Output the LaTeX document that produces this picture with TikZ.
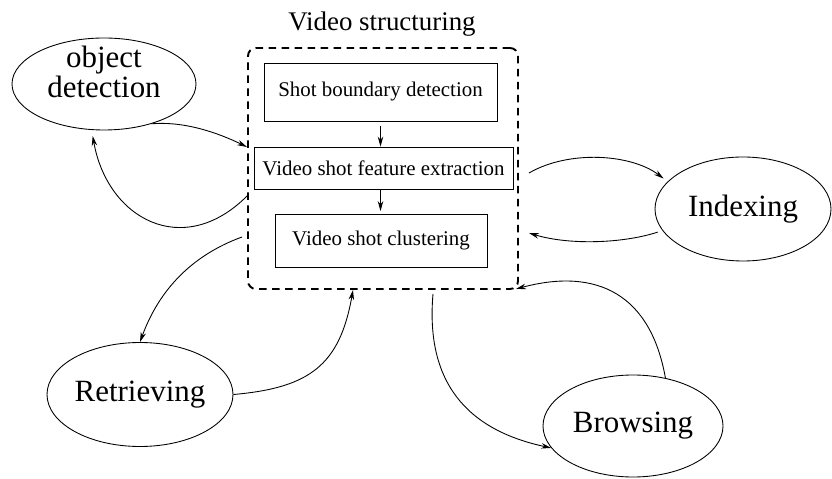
\documentclass[tikz,border=0pt]{standalone}
\usepackage{fontspec}
\setmainfont{Liberation Serif}
\usetikzlibrary{shapes.geometric}
\usetikzlibrary{arrows.meta}
\tikzset{elipse/.style={ellipse,draw,line width=0.5pt,inner sep=0pt},
	etiq/.style={font=\fontsize{17.6}{17}\selectfont,align=center},
	caja/.style={rectangle,draw,line width=0.45pt,inner sep=0pt,font=\fontsize{11.9}{14}\selectfont},
	flecha/.style={-{Stealth[length=2mm,width=1.1mm]},line width=0.5pt}}
\begin{document}
\begin{tikzpicture}
		\useasboundingbox (0,0) rectangle (16.64,9.56); %marco
		\node[draw,dashed,line width=1.1pt,dash pattern=on 0.15cm off 0.11cm,rounded corners=0.16cm,minimum width=5.4cm,minimum height=4.82cm] (V) at (7.66,6.19) {}; %bloque punteado
		\node[anchor=base,font=\fontsize{15.3}{17}\selectfont] (T) at (7.64,8.94) {Video structuring}; %titulo
		\node[caja,minimum width=4.66cm,minimum height=1.16cm] (s1) at (7.61,7.72) {Shot boundary detection};
		\node[caja,minimum width=5.18cm,minimum height=0.84cm] (s2) at (7.67,6.20) {Video shot feature extraction};
		\node[caja,minimum width=4.24cm,minimum height=1.06cm] (s3) at (7.62,4.74) {Video shot clustering};
		\draw[flecha] ([yshift=-0.1cm]s1.south) -- (s1.south |- s2.north);
		\draw[flecha] (s1.south |- s2.south) -- ([yshift=0.06cm]s1.south |- s3.north);
		\node[elipse,minimum width=3.68cm,minimum height=1.84cm,label={[etiq,yshift=0.25cm]center:object\\detection}] (O) at (2.08,7.88) {}; %deteccion
		\node[elipse,etiq,minimum width=3.52cm,minimum height=2.08cm] (I) at (14.86,5.38) {Indexing};
		\node[elipse,etiq,minimum width=3.72cm,minimum height=2.08cm] (Rt) at (2.80,1.67) {Retrieving};
		\node[elipse,etiq,minimum width=3.6cm,minimum height=2.04cm] (B) at (12.66,1.04) {Browsing};
		\draw[flecha] (O.-40) to[out=5,in=154,looseness=0.85] ([yshift=0.43cm]V.west);
		\draw[flecha,shorten >=0.12cm] ([yshift=-0.55cm]V.west) to[out=225,in=-80,looseness=1.37] (O.-105);
		\draw[flecha] ([xshift=-0.1cm,yshift=-1.37cm]V.west) to[out=200,in=70,looseness=0.95] (Rt.north);
		\draw[flecha] (Rt.east) to[out=5,in=-100,looseness=1.23] ([xshift=-0.6cm]V.south);
		\draw[flecha,shorten >=0.1cm] ([xshift=0.2cm,yshift=-0.09cm]V.east) to[out=30,in=143,looseness=0.85] (I.160);
		\draw[flecha,shorten <=0.1cm] (I.195) to[out=198,in=-17,looseness=0.8] ([xshift=0.2cm,yshift=-1.29cm]V.east);
		\draw[flecha] ([xshift=1cm,yshift=-0.08cm]V.south) to[out=-95,in=168,looseness=1.15] (B.195);
		\draw[flecha] (B.56) to[out=100,in=15,looseness=1.24] ([xshift=-0.06cm,yshift=0.02cm]V.south east);
		\end{tikzpicture}
\end{document}
